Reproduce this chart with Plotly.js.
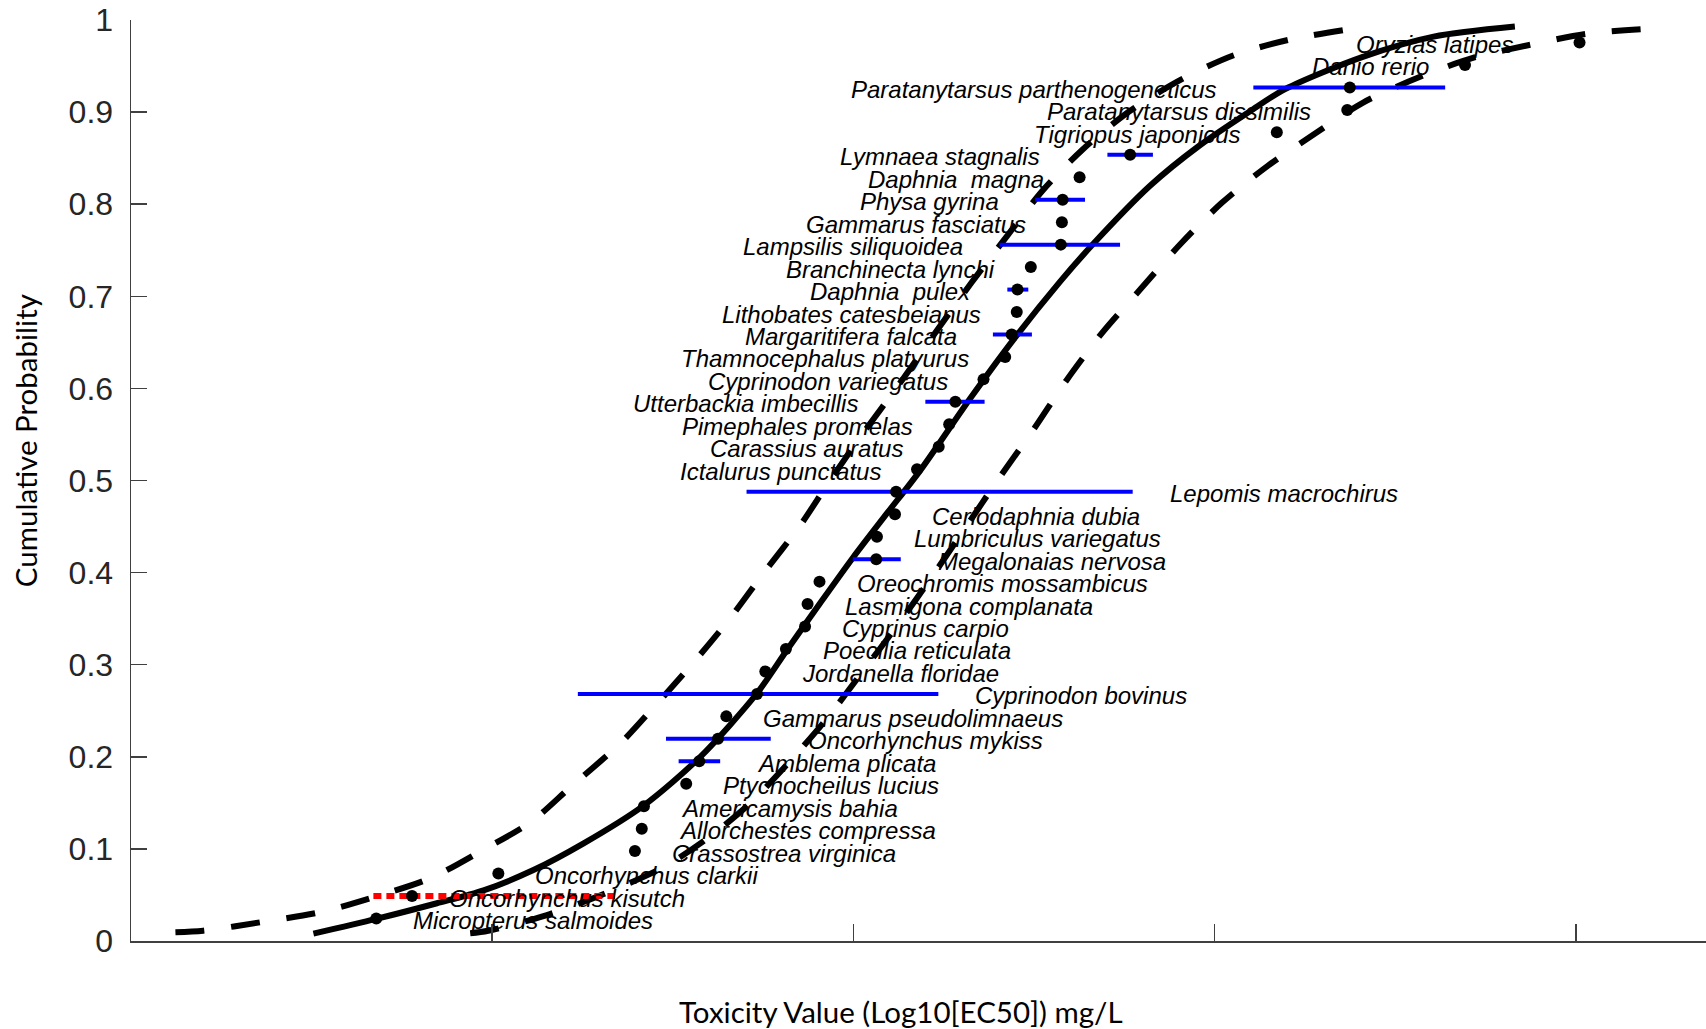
<!DOCTYPE html>
<html>
<head>
<meta charset="utf-8">
<script src="https://cdn.plot.ly/plotly-3.0.1.min.js"></script>
<style>html,body{margin:0;padding:0;background:#fff}#chart{width:1706px;height:1029px}</style>
</head>
<body>
<div id="chart"></div>
<script>
// ---- Species (sorted by toxicity), plotted toxicity values and cumulative probabilities ----
const species = [
  "Micropterus salmoides","Oncorhynchus kisutch","Oncorhynchus clarkii","Crassostrea virginica",
  "Allorchestes compressa","Americamysis bahia","Ptychocheilus lucius","Amblema plicata",
  "Oncorhynchus mykiss","Gammarus pseudolimnaeus","Cyprinodon bovinus","Jordanella floridae",
  "Poecilia reticulata","Cyprinus carpio","Lasmigona complanata","Oreochromis mossambicus",
  "Megalonaias nervosa","Lumbriculus variegatus","Ceriodaphnia dubia","Lepomis macrochirus",
  "Ictalurus punctatus","Carassius auratus","Pimephales promelas","Utterbackia imbecillis",
  "Cyprinodon variegatus","Thamnocephalus platyurus","Margaritifera falcata","Lithobates catesbeianus",
  "Daphnia\u00a0 pulex","Branchinecta lynchi","Lampsilis siliquoidea","Gammarus fasciatus",
  "Physa gyrina","Daphnia\u00a0 magna","Lymnaea stagnalis","Tigriopus japonicus",
  "Paratanytarsus dissimilis","Paratanytarsus parthenogeneticus","Danio rerio","Oryzias latipes"
];
const toxValue = [
  -2.321,-2.222,-1.983,-1.605,-1.586,-1.580,-1.463,-1.427,
  -1.375,-1.352,-1.267,-1.244,-1.187,-1.134,-1.127,-1.094,
  -0.937,-0.935,-0.885,-0.882,-0.824,-0.764,-0.735,-0.718,
  -0.640,-0.580,-0.562,-0.548,-0.546,-0.509,-0.426,-0.423,
  -0.421,-0.374,-0.234,0.172,0.367,0.374,0.693,1.010
];
const cumProb = [
  0.0244,0.0488,0.0732,0.0976,0.1220,0.1463,0.1707,0.1951,
  0.2195,0.2439,0.2683,0.2927,0.3171,0.3415,0.3659,0.3902,
  0.4146,0.4390,0.4634,0.4878,0.5122,0.5366,0.5610,0.5854,
  0.6098,0.6341,0.6585,0.6829,0.7073,0.7317,0.7561,0.7805,
  0.8049,0.8293,0.8537,0.8780,0.9024,0.9268,0.9512,0.9756
];

// ---- Range bars (blue) for species with several values ----
const rangeSpecies = ["Amblema plicata","Oncorhynchus mykiss","Cyprinodon bovinus","Megalonaias nervosa",
  "Lepomis macrochirus","Utterbackia imbecillis","Margaritifera falcata","Daphnia\u00a0 pulex",
  "Lampsilis siliquoidea","Physa gyrina","Lymnaea stagnalis","Paratanytarsus parthenogeneticus"];
const rangeLow  = [-1.484,-1.519,-1.763,-1.002,-1.296,-0.801,-0.614,-0.574,-0.596,-0.497,-0.297,0.107];
const rangeHigh = [-1.369,-1.229,-0.765,-0.869,-0.227,-0.637,-0.506,-0.516,-0.262,-0.359,-0.171,0.638];

// ---- Red dotted range ----
const redSpecies = "Oncorhynchus kisutch";
const redLow = -2.329, redHigh = -1.660;

// ---- Fitted distribution (solid) and confidence bounds (dashed) ----
const fitX = [-2.495,-2.321,-2.153,-2.024,-1.886,-1.747,-1.581,-1.424,-1.267,-1.184,-1.092,-1.000,-0.908,
  -0.815,-0.677,-0.557,-0.428,-0.336,-0.179,-0.041,0.098,0.195,0.410,0.606,0.831];
const fitY = [0.008,0.024,0.041,0.055,0.077,0.106,0.147,0.200,0.269,0.316,0.367,0.417,0.464,
  0.511,0.589,0.653,0.716,0.757,0.820,0.864,0.901,0.925,0.960,0.982,0.993];
const upperBoundX = [-2.877,-2.800,-2.642,-2.476,-2.329,-2.172,-2.025,-1.894,-1.784,-1.645,-1.557,-1.449,
  -1.346,-1.247,-1.147,-1.070,-0.981,-0.862,-0.771,-0.673,-0.575,-0.475,-0.364,-0.237,-0.096,0.051,0.203,0.358];
const upperBoundY = [0.0095,0.0112,0.0203,0.0313,0.0475,0.0680,0.0990,0.1289,0.1669,0.2147,0.2520,0.2996,
  0.3482,0.4004,0.4515,0.4970,0.5472,0.6108,0.6617,0.7149,0.7654,0.8154,0.8599,0.9006,0.9348,0.9614,0.9783,0.9891];
const lowerBoundX = [-2.061,-2.011,-1.851,-1.698,-1.524,-1.398,-1.289,-1.177,-1.074,-0.973,-0.875,-0.777,
  -0.689,-0.598,-0.500,-0.411,-0.311,-0.204,-0.096,0.019,0.146,0.278,0.411,0.567,0.719,0.877,1.033,1.191];
const lowerBoundY = [0.0084,0.0111,0.0279,0.0500,0.0806,0.1132,0.1485,0.1946,0.2413,0.2935,0.3445,0.3988,
  0.4493,0.5020,0.5563,0.6084,0.6606,0.7084,0.7562,0.8012,0.8414,0.8767,0.9104,0.9381,0.9593,0.9734,0.9853,0.9902];

const yTicks = [0,0.1,0.2,0.3,0.4,0.5,0.6,0.7,0.8,0.9,1];
const yTickText = ["0","0.1","0.2","0.3","0.4","0.5","0.6","0.7","0.8","0.9","1"];
const xTicks = [-2,-1,0,1];
const xTitle = "Toxicity Value (Log10[EC50]) mg/L";
const yTitle = "Cumulative Probability";

// ---- Build traces ----
const traces = [];
traces.push({x: upperBoundX, y: upperBoundY, mode: 'lines', line: {color: '#000', width: 6, dash: '29px,27px', shape: 'spline', smoothing: 0.8}, hoverinfo: 'skip'});
traces.push({x: lowerBoundX, y: lowerBoundY, mode: 'lines', line: {color: '#000', width: 6, dash: '29px,27px', shape: 'spline', smoothing: 0.8}, hoverinfo: 'skip'});
traces.push({x: fitX, y: fitY, mode: 'lines', line: {color: '#000', width: 6, shape: 'spline', smoothing: 0.8}, hoverinfo: 'skip'});

const bx = [], by = [];
rangeSpecies.forEach((s, k) => {
  const i = species.indexOf(s);
  bx.push(rangeLow[k], rangeHigh[k], null);
  by.push(cumProb[i], cumProb[i], null);
});
traces.push({x: bx, y: by, mode: 'lines', line: {color: '#0000FF', width: 4}, hoverinfo: 'skip'});
const ri = species.indexOf(redSpecies);
traces.push({x: [redLow, redHigh], y: [cumProb[ri], cumProb[ri]], mode: 'lines', line: {color: '#FF0000', width: 6, dash: '8px,5px'}, hoverinfo: 'skip'});
traces.push({x: toxValue, y: cumProb, mode: 'markers', marker: {color: '#000', size: 12}, hoverinfo: 'skip'});

// ---- Species labels ----
const extraShift = {"Utterbackia imbecillis": -31, "Lymnaea stagnalis": -31, "Oryzias latipes": -31};
const annotations = species.map((s, i) => {
  const k = rangeSpecies.indexOf(s);
  const lower = cumProb[i] < 0.5;
  let ax = toxValue[i];
  if (k >= 0) ax = lower ? rangeHigh[k] : rangeLow[k];
  return {
    x: ax, y: cumProb[i], xref: 'x', yref: 'y', text: s, showarrow: false,
    xanchor: lower ? 'left' : 'right', yanchor: 'middle',
    xshift: (lower ? 35 : -34) + (extraShift[s] || 0), yshift: -2,
    font: {family: 'Liberation Sans, Arial, sans-serif', size: 24, style: 'italic', color: '#000'}
  };
});
annotations.push({x: 0.489, y: -0.077, xref: 'paper', yref: 'paper', text: xTitle, showarrow: false,
  xanchor: 'center', yanchor: 'middle', font: {family: 'Lato, sans-serif', size: 29.5, color: '#000'}});
annotations.push({x: -0.0665, y: 0.543, xref: 'paper', yref: 'paper', text: yTitle, showarrow: false, textangle: -90,
  xanchor: 'center', yanchor: 'middle', font: {family: 'Lato, sans-serif', size: 29.5, color: '#000'}});

const layout = {
  width: 1706, height: 1029,
  margin: {l: 131, r: 0, t: 20, b: 88},
  paper_bgcolor: '#fff', plot_bgcolor: '#fff',
  showlegend: false,
  xaxis: {range: [-3, 1.3601], tickvals: xTicks, showticklabels: false, ticks: 'inside', ticklen: 17, tickwidth: 1.5,
    tickcolor: '#404040', showline: true, linecolor: '#404040', linewidth: 1.5, showgrid: false, zeroline: false},
  yaxis: {range: [0, 1], tickvals: yTicks, ticktext: yTickText, ticks: 'inside', ticklen: 16, tickwidth: 1.5,
    tickcolor: '#404040', showline: true, linecolor: '#404040', linewidth: 1.5, showgrid: false, zeroline: false,
    ticklabelstandoff: 10, tickfont: {family: 'Liberation Sans, Arial, sans-serif', size: 32, color: '#262626'}},
  annotations: annotations
};

Plotly.newPlot('chart', traces, layout, {staticPlot: true, displayModeBar: false});
</script>
</body>
</html>
